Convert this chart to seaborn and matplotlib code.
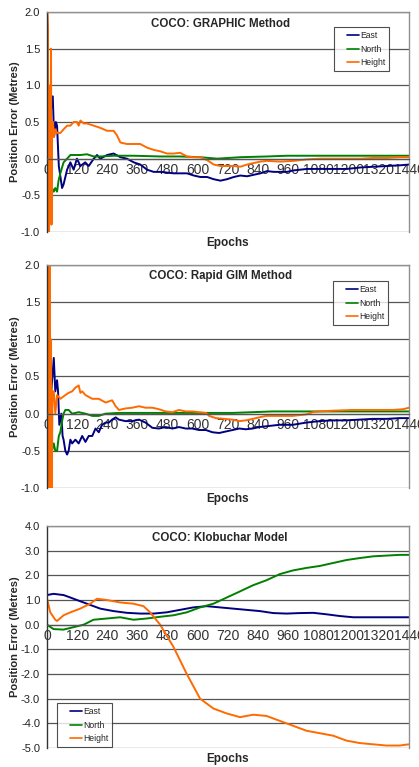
import numpy as np
import pandas as pd
import matplotlib
matplotlib.use("Agg")
import matplotlib.pyplot as plt
import seaborn as sns

sns.set_style("white")
plt.rcParams['font.family'] = ['Liberation Sans', 'DejaVu Sans']
plt.rcParams['axes.unicode_minus'] = False

series_names = ["East", "North", "Height"]
colors = {"East": "#000080", "North": "#008000", "Height": "#ff6a00"}
x_ticks = list(range(0, 1441, 120))

# ---------- Panel 1: GRAPHIC ----------
g_east_x = [0, 7, 13, 23, 28, 35, 40, 47, 60, 66, 80, 93, 106, 119, 133, 152, 166, 186, 199, 212, 239, 265, 292, 318, 345, 371, 398, 424, 451, 477, 504, 530, 557, 584, 610, 637, 663, 690, 716, 743, 769, 796, 822, 849, 875, 902, 928, 955, 981, 1008, 1034, 1087, 1141, 1194, 1247, 1300, 1353, 1406, 1440]
g_east_y = [0.1, 0.65, 0.6, 0.85, 0.3, 0.5, 0.45, -0.1, -0.4, -0.35, -0.15, -0.05, -0.15, 0.0, -0.1, -0.05, -0.1, 0.0, 0.05, 0.0, 0.05, 0.07, 0.02, 0.0, -0.05, -0.08, -0.15, -0.18, -0.18, -0.19, -0.2, -0.2, -0.2, -0.23, -0.25, -0.25, -0.28, -0.3, -0.28, -0.25, -0.23, -0.24, -0.22, -0.2, -0.17, -0.18, -0.18, -0.18, -0.16, -0.15, -0.14, -0.14, -0.14, -0.14, -0.12, -0.11, -0.1, -0.09, -0.08]
g_north_x = [0, 5, 10, 20, 27, 33, 40, 46, 53, 66, 80, 93, 133, 159, 186, 212, 265, 345, 451, 530, 610, 677, 769, 875, 955, 1087, 1247, 1440]
g_north_y = [0.2, 0.95, 0.3, -0.4, -0.45, -0.4, -0.45, -0.3, -0.2, -0.05, 0.0, 0.05, 0.05, 0.06, 0.03, 0.03, 0.04, 0.04, 0.03, 0.03, 0.02, 0.0, 0.02, 0.03, 0.04, 0.04, 0.04, 0.04]
g_height_x = [0, 2, 4, 6, 8, 10, 12, 14, 16, 18, 20, 24, 28, 33, 40, 53, 66, 80, 93, 106, 119, 126, 133, 146, 159, 186, 212, 239, 265, 278, 292, 318, 345, 371, 398, 424, 451, 477, 504, 530, 557, 584, 610, 637, 663, 690, 743, 769, 796, 822, 849, 875, 928, 981, 1034, 1087, 1141, 1194, 1247, 1300, 1353, 1406, 1440]
g_height_y = [2.5, 2.0, 1.8, -1.2, -1.2, -0.2, 1.0, -0.7, 1.5, -0.9, 0.3, 0.5, 0.3, 0.4, 0.35, 0.35, 0.4, 0.45, 0.45, 0.5, 0.5, 0.45, 0.52, 0.48, 0.48, 0.45, 0.42, 0.38, 0.38, 0.32, 0.22, 0.2, 0.2, 0.2, 0.15, 0.12, 0.1, 0.07, 0.07, 0.08, 0.03, 0.02, 0.02, -0.02, -0.08, -0.1, -0.1, -0.11, -0.08, -0.06, -0.04, -0.03, -0.04, -0.03, -0.01, 0.0, 0.0, 0.0, 0.0, 0.01, 0.01, 0.02, 0.02]

# ---------- Panel 2: Rapid GIM ----------
r_east_x = [0, 3, 7, 12, 17, 27, 33, 40, 44, 49, 57, 62, 66, 73, 80, 86, 93, 100, 113, 126, 140, 153, 166, 180, 193, 206, 219, 233, 246, 259, 273, 286, 312, 339, 366, 392, 419, 445, 472, 499, 525, 552, 578, 605, 632, 658, 685, 711, 738, 765, 791, 818, 844, 871, 924, 977, 1031, 1084, 1137, 1190, 1243, 1297, 1350, 1403, 1440]
r_east_y = [1.2, -0.9, 0.1, 0.4, 0.3, 0.75, 0.3, 0.45, 0.3, -0.15, 0.0, -0.3, -0.35, -0.5, -0.55, -0.5, -0.35, -0.4, -0.35, -0.4, -0.3, -0.38, -0.3, -0.3, -0.2, -0.25, -0.15, -0.12, -0.12, -0.08, -0.05, -0.08, -0.1, -0.1, -0.08, -0.12, -0.19, -0.2, -0.18, -0.2, -0.18, -0.2, -0.2, -0.22, -0.22, -0.25, -0.26, -0.24, -0.22, -0.2, -0.21, -0.2, -0.18, -0.17, -0.15, -0.15, -0.12, -0.1, -0.09, -0.09, -0.08, -0.07, -0.07, -0.06, -0.06]
r_north_x = [0, 5, 10, 20, 27, 33, 40, 47, 53, 60, 66, 73, 86, 100, 126, 153, 180, 206, 233, 286, 339, 445, 552, 658, 738, 818, 897, 977, 1084, 1190, 1297, 1440]
r_north_y = [2.0, 1.0, -0.3, -0.5, -0.4, -0.5, -0.5, -0.3, -0.25, -0.1, 0.0, 0.05, 0.05, 0.0, 0.02, 0.0, -0.03, -0.03, 0.0, 0.01, 0.01, 0.01, 0.01, 0.01, 0.01, 0.02, 0.03, 0.03, 0.03, 0.03, 0.03, 0.03]
r_height_x = [0, 2, 4, 6, 8, 10, 13, 16, 19, 22, 27, 33, 40, 53, 73, 86, 100, 113, 126, 133, 140, 153, 180, 206, 233, 259, 273, 286, 312, 339, 366, 392, 419, 445, 472, 499, 525, 552, 578, 605, 632, 645, 672, 738, 765, 791, 818, 844, 871, 924, 977, 1031, 1057, 1084, 1137, 1217, 1297, 1377, 1417, 1440]
r_height_y = [2.5, -1.2, 2.2, 1.6, -0.5, 2.0, -1.2, 1.0, -1.0, 0.3, 0.3, 0.0, 0.25, 0.2, 0.25, 0.28, 0.3, 0.35, 0.38, 0.28, 0.3, 0.25, 0.2, 0.2, 0.15, 0.18, 0.1, 0.05, 0.07, 0.08, 0.1, 0.08, 0.08, 0.06, 0.03, 0.02, 0.05, 0.03, 0.03, 0.02, 0.01, -0.03, -0.06, -0.08, -0.1, -0.09, -0.07, -0.05, -0.03, -0.03, -0.03, -0.01, 0.02, 0.03, 0.04, 0.05, 0.05, 0.05, 0.06, 0.08]

# ---------- Panel 3: Klobuchar ----------
k_east_x = [0, 26, 66, 93, 132, 172, 212, 265, 318, 371, 424, 476, 529, 582, 635, 688, 741, 794, 847, 900, 953, 1006, 1059, 1112, 1165, 1218, 1270, 1323, 1376, 1440]
k_east_y = [1.2, 1.25, 1.2, 1.1, 0.95, 0.8, 0.65, 0.55, 0.48, 0.45, 0.45, 0.5, 0.6, 0.7, 0.75, 0.7, 0.65, 0.6, 0.55, 0.47, 0.45, 0.47, 0.48, 0.42, 0.35, 0.3, 0.3, 0.3, 0.3, 0.3]
k_north_x = [0, 26, 66, 106, 146, 185, 238, 291, 344, 397, 450, 503, 556, 609, 662, 715, 768, 820, 873, 926, 979, 1032, 1085, 1138, 1191, 1244, 1297, 1350, 1403, 1440]
k_north_y = [0.0, -0.18, -0.2, -0.1, 0.0, 0.2, 0.25, 0.3, 0.2, 0.25, 0.32, 0.38, 0.5, 0.7, 0.85, 1.1, 1.35, 1.6, 1.8, 2.05, 2.2, 2.3, 2.38, 2.5, 2.62, 2.7, 2.77, 2.8, 2.83, 2.83]
k_height_x = [0, 13, 33, 40, 66, 93, 132, 172, 199, 238, 291, 344, 384, 410, 450, 503, 556, 609, 662, 715, 768, 820, 873, 926, 979, 1032, 1085, 1138, 1191, 1244, 1297, 1350, 1403, 1440]
k_height_y = [1.05, 0.5, 0.2, 0.15, 0.38, 0.5, 0.65, 0.85, 1.05, 1.0, 0.9, 0.85, 0.75, 0.5, 0.0, -0.9, -2.0, -3.0, -3.4, -3.6, -3.75, -3.65, -3.7, -3.9, -4.1, -4.3, -4.4, -4.5, -4.7, -4.8, -4.85, -4.9, -4.9, -4.85]

titles = ["COCO: GRAPHIC Method", "COCO: Rapid GIM Method", "COCO: Klobuchar Model"]
panels = [
    [(g_east_x, g_east_y), (g_north_x, g_north_y), (g_height_x, g_height_y)],
    [(r_east_x, r_east_y), (r_north_x, r_north_y), (r_height_x, r_height_y)],
    [(k_east_x, k_east_y), (k_north_x, k_north_y), (k_height_x, k_height_y)],
]
ylims = [(-1.0, 2.0), (-1.0, 2.0), (-5.0, 4.0)]
yticks = [np.arange(-1.0, 2.01, 0.5), np.arange(-1.0, 2.01, 0.5), np.arange(-5.0, 4.01, 1.0)]

W, H = 419, 767
fig = plt.figure(figsize=(W / 100, H / 100), dpi=100)
fig.patch.set_facecolor("white")
# (top px, bottom px)
rows = [(12, 232), (265, 488), (526, 748)]
left_px, right_px = 47, 409
legend_anchor = [(0.793, 0.932), (0.79, 0.928), (0.028, 0.203)]
title_y = [0.945, 0.95, 0.946]

for i in range(3):
    top, bot = rows[i]
    ax = fig.add_axes([left_px / W, 1 - bot / H, (right_px - left_px) / W, (bot - top) / H])
    frames = []
    for name, (xs, ys) in zip(series_names, panels[i]):
        frames.append(pd.DataFrame({"Epoch": xs, "Error": ys, "Series": name}))
    df = pd.concat(frames, ignore_index=True)
    sns.lineplot(data=df, x="Epoch", y="Error", hue="Series", palette=colors,
                 estimator=None, sort=False, linewidth=1.4, ax=ax, legend=True)
    ax.set_xlim(0, 1440)
    ax.set_ylim(*ylims[i])
    ax.set_yticks(yticks[i])
    ax.set_yticklabels([f"{v:.1f}" for v in yticks[i]], fontsize=8)
    ax.set_xticks(x_ticks)
    ax.set_xticklabels([str(t) for t in x_ticks], fontsize=7.3)
    ax.yaxis.grid(True, color="#555555", linewidth=0.9)
    ax.xaxis.grid(False)
    ax.set_axisbelow(True)
    ax.spines["bottom"].set_position(("data", 0))
    ax.spines["bottom"].set_color("#555555")
    ax.spines["bottom"].set_linewidth(0.9)
    for s in ["top", "right"]:
        ax.spines[s].set_color("#909090")
        ax.spines[s].set_linewidth(1.0)
    ax.spines["left"].set_color("#333333")
    ax.spines["left"].set_linewidth(1.0)
    ax.tick_params(axis="y", length=3, width=0.8, color="#333333", pad=2, labelcolor="#222222")
    ax.tick_params(axis="x", length=0, pad=3, labelcolor="#333333")
    ax.set_xlabel("")
    ax.set_ylabel("")
    ax.text(0.5, -0.05, "Epochs", transform=ax.transAxes, ha="center", va="center",
            fontsize=8.5, fontweight="bold")
    ax.text(-0.088, 0.5, "Position Error (Metres)", transform=ax.transAxes, ha="center",
            va="center", rotation=90, fontsize=8, fontweight="bold")
    ax.text(0.478, title_y[i], titles[i], transform=ax.transAxes, ha="center", va="center",
            fontsize=8.3, fontweight="bold")
    leg = ax.legend(loc="upper left", bbox_to_anchor=legend_anchor[i], borderaxespad=0,
                    fontsize=6.2, frameon=True, fancybox=False, handlelength=2.4,
                    handletextpad=0.15, labelspacing=0.55, borderpad=0.45, title=None)
    leg.get_frame().set_edgecolor("#222222")
    leg.get_frame().set_linewidth(0.8)
    for line in leg.get_lines():
        line.set_linewidth(1.2)
        xd = np.asarray(line.get_xdata(), dtype=float)
        x0, x1 = xd.min(), xd.max()
        line.set_xdata(np.linspace(x0 + (x1 - x0) * 0.45, x1, len(xd)))

fig.savefig("out.png", dpi=100, facecolor="white")
